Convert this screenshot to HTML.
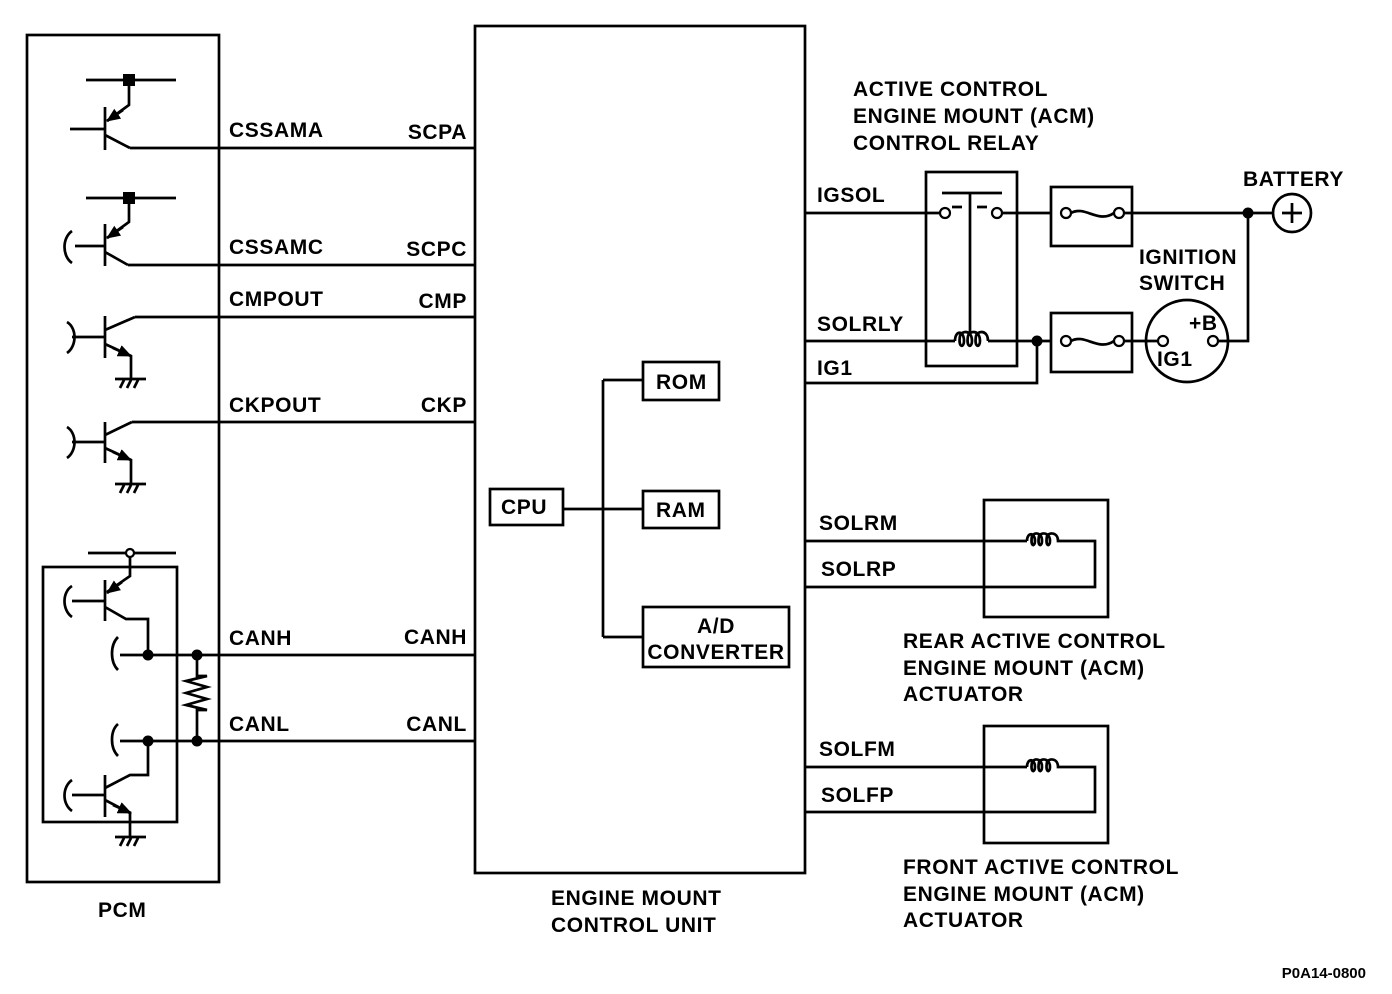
<!DOCTYPE html>
<html><head><style>
html,body{margin:0;padding:0;background:#fff}
svg{display:block}
text{font-family:"Liberation Sans",Arial,sans-serif;font-weight:bold;font-size:21px;letter-spacing:0.6px;fill:#000}
</style></head><body>
<svg width="1392" height="994" viewBox="0 0 1392 994" xmlns="http://www.w3.org/2000/svg">
<defs>
<marker id="ar" markerWidth="14" markerHeight="12" refX="13" refY="6" orient="auto" markerUnits="userSpaceOnUse"><path d="M0,0 L14,6 L0,12 z" fill="#000"/></marker>
</defs>
<g stroke="#000" stroke-width="2.7" fill="none">
<rect x="27" y="35" width="192" height="847"/>
<rect x="475" y="26" width="330" height="847"/>
<path d="M130 148H475M128 265H475M135 317H475M132 422H475M148 655H475M148 741H475"/>
<!-- transistor 1 -->
<path d="M86 80H176M105 107V150M70 129H105M105 135L130 148M129 86V105L107 121" />
<path d="M123 110L107 121" marker-end="url(#ar)"/>
<!-- transistor 2 -->
<path d="M86 198H176M105 224V266M75 246H105M105 252L128 265M129 204V222L107 238"/>
<path d="M123 227L107 238" marker-end="url(#ar)"/>
<path d="M72 231C62 238 62 256 72 263"/>
<!-- transistor 3 -->
<path d="M105 316V358M72 337H105M105 330L135 317M105 344L131 356V379M115 379H146M120 388L124 380M127 388L131 380M134 388L138 380"/>
<path d="M113 348L131 356" marker-end="url(#ar)"/>
<path d="M67 322C77 328 77 346 67 353"/>
<!-- transistor 4 -->
<path d="M105 422V463M72 442H105M105 435L132 422M105 448L131 460V484M115 484H146M120 493L124 485M127 493L131 485M134 493L138 485"/>
<path d="M113 452L131 460" marker-end="url(#ar)"/>
<path d="M67 427C77 433 77 451 67 458"/>
<!-- CAN -->
<rect x="43" y="567" width="134" height="255"/>
<path d="M88 553H126M134 553H176M130 557V576L107 592M105 580V621M72 601H105M105 607L126 619H148V655M120 655H148"/>
<path d="M122 582L107 593" marker-end="url(#ar)"/>
<path d="M72 586C62 592 62 610 72 617M118 637C110 645 110 662 118 670"/>
<path d="M118 724C110 731 110 748 118 756M120 741H148M148 741V775H130L105 788M105 775V817M72 795H105M105 800L130 813V837M115 837H146M120 846L124 838M127 846L131 838M134 846L138 838"/>
<path d="M113 805L131 813" marker-end="url(#ar)"/>
<path d="M72 780C62 787 62 804 72 811"/>
<path d="M197 655V676H207L186 681L207 687L186 693L207 699L186 705L207 710H197V741"/>
<!-- ECU internals -->
<rect x="490" y="489" width="73" height="36"/>
<rect x="643" y="362" width="76" height="38"/>
<rect x="643" y="491" width="76" height="37"/>
<rect x="643" y="607" width="146" height="60"/>
<path d="M563 509H643M603 380V637M603 380H643M603 637H643"/>
<!-- relay -->
<rect x="926" y="172" width="91" height="194"/>
<path d="M805 213H940M942 193H1002M970 193V333M952 207H962M977 207H987M1002 213H1051M805 341H955M988 341H1051M805 383H1037V341"/>
<path d="M955 341C955 330 964 330 964 341C964 348 958 348 960 336C962 330 972 330 972 341C972 348 966 348 968 336C970 330 980 330 980 341C980 348 974 348 976 336C978 330 988 330 988 341"/>
<rect x="1051" y="187" width="81" height="59"/>
<rect x="1051" y="313" width="81" height="59"/>
<path d="M1071 213C1085 205 1098 224 1114 213M1071 341C1085 333 1098 352 1114 341M1124 213H1248H1273M1124 341H1158M1218 341H1248V213M1282 213H1302M1292 203V223"/>
<circle cx="1292" cy="213" r="19"/>
<circle cx="1187" cy="341" r="41"/>
<!-- actuators -->
<rect x="984" y="500" width="124" height="117"/>
<rect x="984" y="726" width="124" height="117"/>
<path d="M805 541H1027M1066 541H1095V587H805M805 767H1027M1066 767H1095V812H805"/>
<path d="M1027 541C1027 532 1035 532 1035 541C1035 547 1030 547 1032 536C1034 532 1042 532 1042 541C1042 547 1037 547 1039 536C1041 532 1050 532 1050 541C1050 547 1045 547 1047 536C1049 532 1058 532 1058 541H1066"/>
<path d="M1027 767C1027 758 1035 758 1035 767C1035 773 1030 773 1032 762C1034 758 1042 758 1042 767C1042 773 1037 773 1039 762C1041 758 1050 758 1050 767C1050 773 1045 773 1047 762C1049 758 1058 758 1058 767H1066"/>
</g>
<g fill="#000">
<rect x="123" y="74" width="12" height="12"/>
<rect x="123" y="192" width="12" height="12"/>
<circle cx="148" cy="655" r="5.5"/><circle cx="197" cy="655" r="5.5"/>
<circle cx="148" cy="741" r="5.5"/><circle cx="197" cy="741" r="5.5"/>
<circle cx="1037" cy="341" r="5.5"/><circle cx="1248" cy="213" r="5.5"/>
</g>
<g fill="#fff" stroke="#000" stroke-width="2.2">
<circle cx="130" cy="553" r="4"/>
<circle cx="945" cy="213" r="5"/><circle cx="997" cy="213" r="5"/>
<circle cx="1066" cy="213" r="5"/><circle cx="1119" cy="213" r="5"/>
<circle cx="1066" cy="341" r="5"/><circle cx="1119" cy="341" r="5"/>
<circle cx="1163" cy="341" r="5"/><circle cx="1213" cy="341" r="5"/>
</g>
<text x="229" y="137">CSSAMA</text>
<text x="467" y="139" text-anchor="end">SCPA</text>
<text x="229" y="254">CSSAMC</text>
<text x="467" y="256" text-anchor="end">SCPC</text>
<text x="229" y="306">CMPOUT</text>
<text x="467" y="308" text-anchor="end">CMP</text>
<text x="229" y="412">CKPOUT</text>
<text x="467" y="412" text-anchor="end">CKP</text>
<text x="229" y="645">CANH</text>
<text x="467" y="644" text-anchor="end">CANH</text>
<text x="229" y="731">CANL</text>
<text x="467" y="731" text-anchor="end">CANL</text>
<text x="98" y="917">PCM</text>
<text x="551" y="905">ENGINE MOUNT</text>
<text x="551" y="932">CONTROL UNIT</text>
<text x="501" y="514">CPU</text>
<text x="656" y="389">ROM</text>
<text x="656" y="517">RAM</text>
<text x="716" y="633" text-anchor="middle">A/D</text>
<text x="716" y="659" text-anchor="middle">CONVERTER</text>
<text x="853" y="96">ACTIVE CONTROL</text>
<text x="853" y="123">ENGINE MOUNT (ACM)</text>
<text x="853" y="150">CONTROL RELAY</text>
<text x="817" y="202">IGSOL</text>
<text x="817" y="331">SOLRLY</text>
<text x="817" y="375">IG1</text>
<text x="1243" y="186">BATTERY</text>
<text x="1139" y="264">IGNITION</text>
<text x="1139" y="290">SWITCH</text>
<text x="1189" y="330">+B</text>
<text x="1157" y="366">IG1</text>
<text x="819" y="530">SOLRM</text>
<text x="821" y="576">SOLRP</text>
<text x="903" y="648">REAR ACTIVE CONTROL</text>
<text x="903" y="675">ENGINE MOUNT (ACM)</text>
<text x="903" y="701">ACTUATOR</text>
<text x="819" y="756">SOLFM</text>
<text x="821" y="802">SOLFP</text>
<text x="903" y="874">FRONT ACTIVE CONTROL</text>
<text x="903" y="901">ENGINE MOUNT (ACM)</text>
<text x="903" y="927">ACTUATOR</text>
<text x="1366" y="978" text-anchor="end" style="font-size:15px;letter-spacing:0">P0A14-0800</text>
</svg>
</body></html>
